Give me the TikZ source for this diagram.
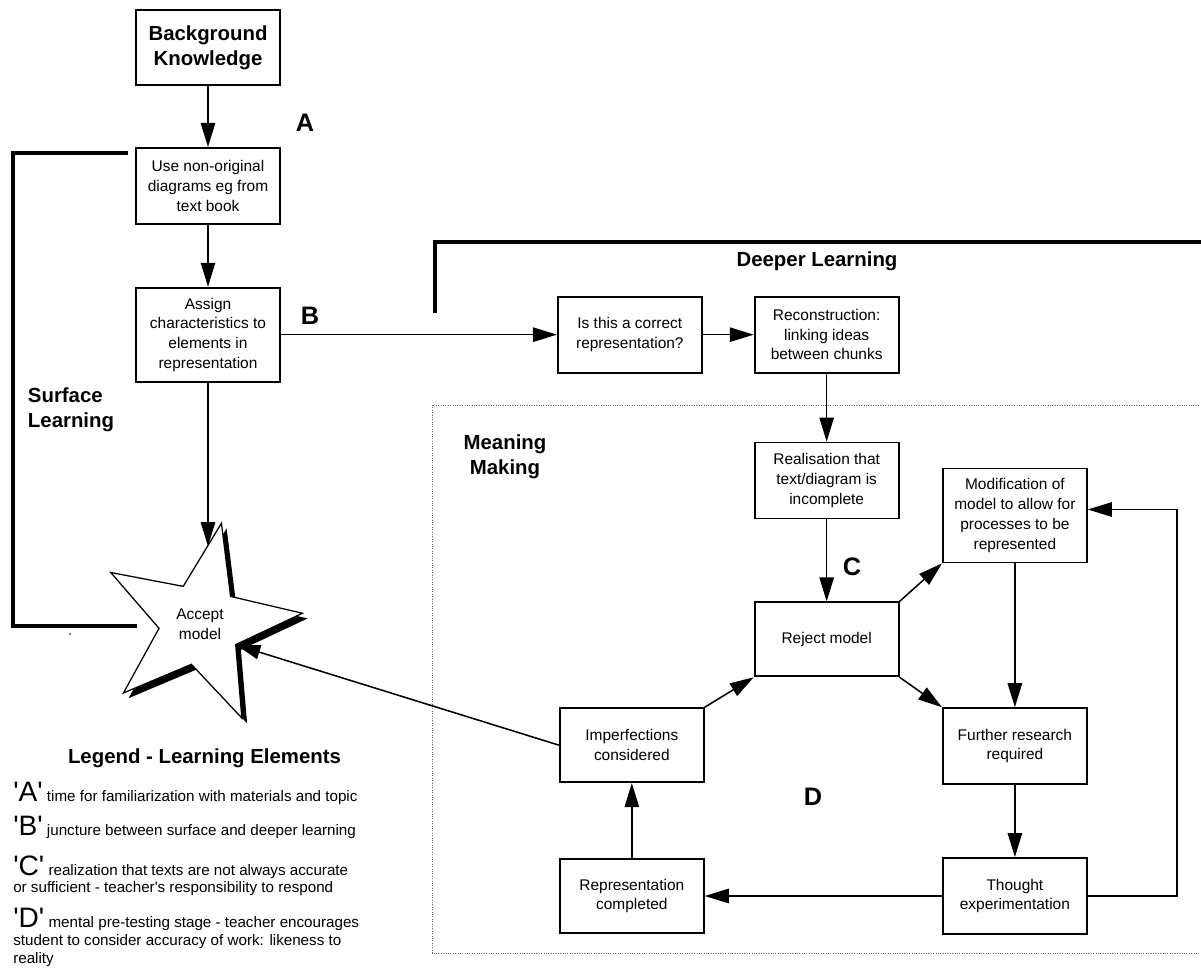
\documentclass[tikz,border=0pt]{standalone}
\usepackage{fontspec}
\setmainfont{Liberation Sans}[Ligatures=TeXOff]
\usetikzlibrary{arrows.meta, positioning, shapes.geometric}

\tikzset{
    % boxes of the flow
    stage/.style={draw, line width=1.3pt, fill=white, minimum width=3.6cm, minimum height=1.9cm, align=center, inner sep=2pt, font=\fontsize{11}{14}\selectfont},
    tallstage/.style={stage, minimum height=2.35cm},
    % texts
    heading/.style={font=\fontsize{14.5}{18}\selectfont\bfseries, align=center},
    marker/.style={font=\fontsize{18}{20}\selectfont\bfseries},
    legend/.style={anchor=north west, align=left, inner sep=0pt, font=\fontsize{10.8}{12.6}\selectfont},
    % lines
    flow/.style={-{Triangle[length=0.6cm, width=0.36cm]}, line width=1.1pt},
    bracket/.style={line width=2.4pt},
    starshape/.style={star, star points=5, star point ratio=2.5, minimum size=5.15cm, inner sep=0pt, shape border rotate=-12}
}
\newcommand{\legletter}[1]{{\fontsize{20}{20}\selectfont '#1'}}

\begin{document}
\begin{tikzpicture}
        \useasboundingbox (0,0) rectangle (30.025,-24.175);

        % Surface learning bracket
        \draw[bracket] (3.2,-3.825) -- (0.325,-3.825) -- (0.325,-15.65) -- (3.425,-15.65);
        \fill (1.75,-15.85) circle (0.6pt);
        \node[heading, align=left, anchor=west] (surface) at (0.575,-10.25) {Surface\\Learning};

        % Deeper learning bracket
        \draw[bracket] (10.875,-7.825) -- (10.875,-6.05) -- (30.1,-6.05);
        \node[heading] (deeper) at (20.425,-6.525) {Deeper Learning};

        % Meaning making area
        \draw[densely dotted, gray!80!black, line width=0.7pt] (30.1,-10.125) -- (10.8,-10.125) -- (10.8,-23.825) -- (30.1,-23.825);
        \node[heading] (meaning) at (12.625,-11.425) {Meaning\\Making};

        % Surface learning steps
        \node[stage, heading, minimum height=1.875cm] (BK) at (5.2,-1.1875) {Background\\Knowledge};
        \node[stage, below=1.525cm of BK] (Use) {Use non-original\\diagrams eg from\\text book};
        \node[tallstage, below=1.55cm of Use] (Assign) {Assign\\characteristics to\\elements in\\representation};

        % Accept model star with shadow
        \node[starshape, fill=black, xshift=0.13cm, yshift=-0.13cm] (StarShadow) at (5.0,-15.6) {};
        \node[starshape, draw, fill=white, line width=0.9pt, align=center, font=\fontsize{11}{14}\selectfont] (Star) at (5.0,-15.6) {Accept\\model};

        % Deeper learning steps
        \node[stage, right=6.9cm of Assign] (IsCorrect) {Is this a correct\\representation?};
        \node[stage, right=1.275cm of IsCorrect] (Recon) {Reconstruction:\\linking ideas\\between chunks};
        \node[stage, below=1.7cm of Recon] (Realise) {Realisation that\\text/diagram is\\incomplete};
        \node[stage, minimum height=1.85cm, below=2.05cm of Realise] (Reject) {Reject model};

        % Meaning making loop
        \node[tallstage, above right=0.95cm and 1.06cm of Reject] (Modif) {Modification of\\model to allow for\\processes to be\\represented};
        \node[stage, below right=0.75cm and 1.06cm of Reject] (Further) {Further research\\required};
        \node[stage, below=1.8cm of Further] (Thought) {Thought\\experimentation};
        \node[stage, minimum height=1.85cm, below left=0.75cm and 1.225cm of Reject] (Imperf) {Imperfections\\considered};
        \node[stage, minimum height=1.85cm, below=1.875cm of Imperf] (Represent) {Representation\\completed};

        % Markers
        \node[marker] (markA) at (7.625,-3.075) {A};
        \node[marker] (markB) at (7.75,-7.9) {B};
        \node[marker] (markC) at (21.3,-14.175) {C};
        \node[marker] (markD) at (20.325,-19.925) {D};

        % Connections
        \draw[flow] (BK) -- (Use);
        \draw[flow] (Use) -- (Assign);
        \draw[flow] (Assign.south) -- (Assign.south |- Star.85);
        \draw[flow] (Assign.east) -- (IsCorrect.west);
        \draw[flow] (IsCorrect) -- (Recon);
        \draw[flow] (Recon) -- (Realise);
        \draw[flow] (Realise) -- (Reject);
        \draw[flow] (Reject.north east) -- (Modif.south west);
        \draw[flow] (Reject.south east) -- (Further.north west);
        \draw[flow] (Modif) -- (Further);
        \draw[flow] (Further) -- (Thought);
        \draw[flow] (Thought) -- (Represent);
        \draw[flow] (Thought.east) -- ++(2.225,0) |- ([yshift=0.15cm]Modif.east);
        \draw[flow] (Represent) -- (Imperf);
        \draw[flow] (Imperf.north east) -- (Reject.south west);
        \draw[flow] (Imperf.west) -- (Star.inner point 4);

        % Legend
        \node[heading] (legendtitle) at (5.1125,-18.95) {Legend - Learning Elements};
        \node[legend] (legA) at (0.325,-19.55) {\legletter{A} time for familiarization with materials and topic};
        \node[legend] (legB) at (0.325,-20.4) {\legletter{B} juncture between surface and deeper learning};
        \node[legend] (legC) at (0.325,-21.38) {\legletter{C} realization that texts are not always accurate\\or sufficient - teacher's responsibility to respond};
        \node[legend] (legD) at (0.325,-22.7) {\legletter{D} mental pre-testing stage - teacher encourages\\student to consider accuracy of work: likeness to\\reality};
\end{tikzpicture}
\end{document}
